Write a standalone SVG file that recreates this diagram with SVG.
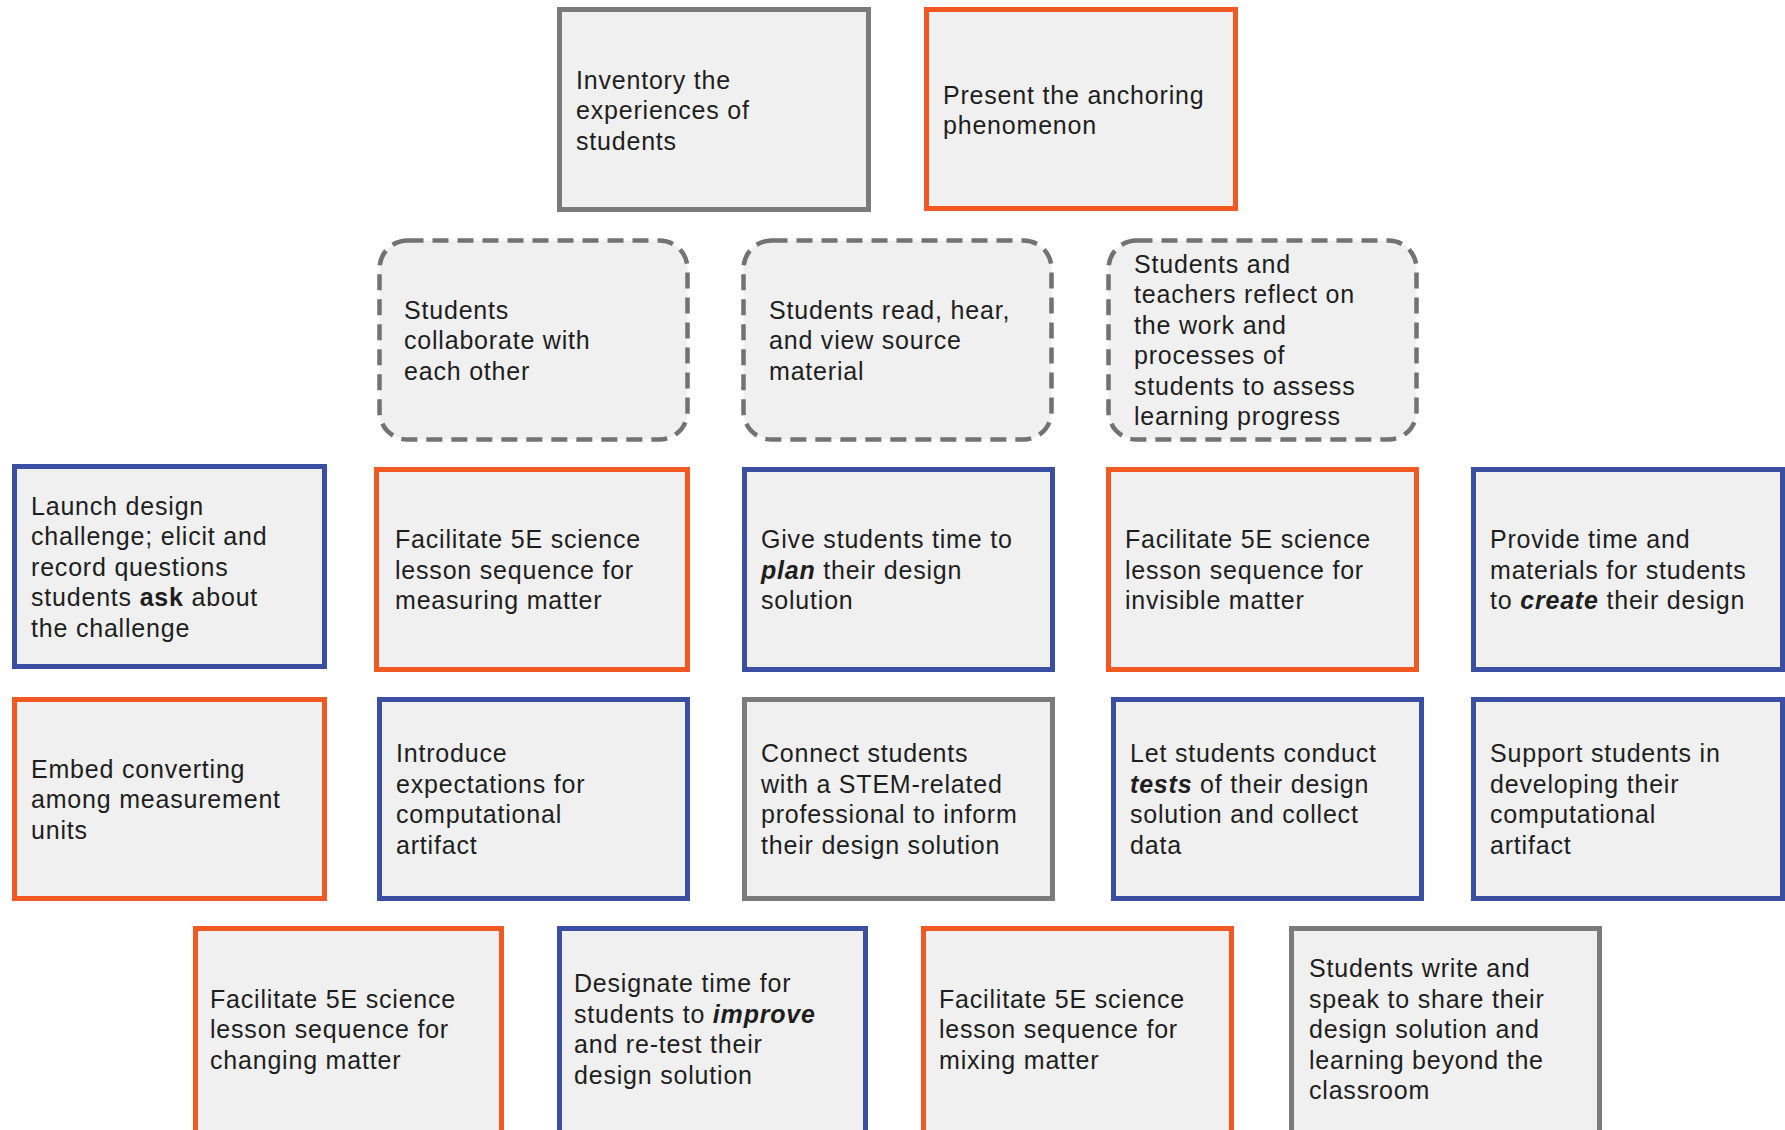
<svg xmlns="http://www.w3.org/2000/svg" width="1785" height="1130" viewBox="0 0 1785 1130">
<style>
.box{fill:#f0f0f0;stroke-width:5}
.org{stroke:#f05a22}
.blu{stroke:#3a4ea2}
.gry{stroke:#7b7b7b}
.dsh{stroke:#727272;stroke-width:4.5;stroke-dasharray:16 9;fill:#f0f0f0}
text{font-family:"Liberation Sans",Arial,sans-serif;font-size:25px;fill:#1e1e1e;letter-spacing:0.8px}
.b{font-weight:bold}
.bi{font-weight:bold;font-style:italic}
</style>
<rect width="1785" height="1130" fill="#ffffff"/>

<g id="inventory">
<rect class="box gry" x="559.5" y="9.5" width="309" height="200"/>
<text x="576" y="88.5">Inventory the</text>
<text x="576" y="119">experiences of</text>
<text x="576" y="149.5">students</text>
</g>
<g id="present">
<rect class="box org" x="926.5" y="9.5" width="309" height="199"/>
<text x="943" y="103.75">Present the anchoring</text>
<text x="943" y="134.25">phenomenon</text>
</g>

<g id="collaborate">
<rect class="dsh" x="379.5" y="240.5" width="308" height="199" rx="28"/>
<text x="404" y="318.5">Students</text>
<text x="404" y="349">collaborate with</text>
<text x="404" y="379.5">each other</text>
</g>
<g id="read">
<rect class="dsh" x="743.5" y="240.5" width="308" height="199" rx="28"/>
<text x="769" y="318.5">Students read, hear,</text>
<text x="769" y="349">and view source</text>
<text x="769" y="379.5">material</text>
</g>
<g id="reflect">
<rect class="dsh" x="1108.5" y="240.5" width="308" height="199" rx="28"/>
<text x="1134" y="272.75">Students and</text>
<text x="1134" y="303.25">teachers reflect on</text>
<text x="1134" y="333.75">the work and</text>
<text x="1134" y="364.25">processes of</text>
<text x="1134" y="394.75">students to assess</text>
<text x="1134" y="425.25">learning progress</text>
</g>

<g id="launch">
<rect class="box blu" x="14.5" y="466.5" width="310" height="200"/>
<text x="31" y="514.5">Launch design</text>
<text x="31" y="545">challenge; elicit and</text>
<text x="31" y="575.5">record questions</text>
<text x="31" y="606">students <tspan class="b">ask</tspan> about</text>
<text x="31" y="636.5">the challenge</text>
</g>
<g id="measuring">
<rect class="box org" x="376.5" y="469.5" width="311" height="200"/>
<text x="395" y="548">Facilitate 5E science</text>
<text x="395" y="578.5">lesson sequence for</text>
<text x="395" y="609">measuring matter</text>
</g>
<g id="plan">
<rect class="box blu" x="744.5" y="469.5" width="308" height="200"/>
<text x="761" y="548">Give students time to</text>
<text x="761" y="578.5"><tspan class="bi">plan</tspan> their design</text>
<text x="761" y="609">solution</text>
</g>
<g id="invisible">
<rect class="box org" x="1108.5" y="469.5" width="308" height="200"/>
<text x="1125" y="548">Facilitate 5E science</text>
<text x="1125" y="578.5">lesson sequence for</text>
<text x="1125" y="609">invisible matter</text>
</g>
<g id="create">
<rect class="box blu" x="1473.5" y="469.5" width="309" height="200"/>
<text x="1490" y="548">Provide time and</text>
<text x="1490" y="578.5">materials for students</text>
<text x="1490" y="609">to <tspan class="bi">create</tspan> their design</text>
</g>

<g id="embed">
<rect class="box org" x="14.5" y="699.5" width="310" height="199"/>
<text x="31" y="777.5">Embed converting</text>
<text x="31" y="808">among measurement</text>
<text x="31" y="838.5">units</text>
</g>
<g id="introduce">
<rect class="box blu" x="379.5" y="699.5" width="308" height="199"/>
<text x="396" y="762.25">Introduce</text>
<text x="396" y="792.75">expectations for</text>
<text x="396" y="823.25">computational</text>
<text x="396" y="853.75">artifact</text>
</g>
<g id="connect">
<rect class="box gry" x="744.5" y="699.5" width="308" height="199"/>
<text x="761" y="762.25">Connect students</text>
<text x="761" y="792.75">with a STEM-related</text>
<text x="761" y="823.25">professional to inform</text>
<text x="761" y="853.75">their design solution</text>
</g>
<g id="tests">
<rect class="box blu" x="1113.5" y="699.5" width="308" height="199"/>
<text x="1130" y="762.25">Let students conduct</text>
<text x="1130" y="792.75"><tspan class="bi">tests</tspan> of their design</text>
<text x="1130" y="823.25">solution and collect</text>
<text x="1130" y="853.75">data</text>
</g>
<g id="support">
<rect class="box blu" x="1473.5" y="699.5" width="309" height="199"/>
<text x="1490" y="762.25">Support students in</text>
<text x="1490" y="792.75">developing their</text>
<text x="1490" y="823.25">computational</text>
<text x="1490" y="853.75">artifact</text>
</g>

<g id="changing">
<rect class="box org" x="195.5" y="928.5" width="306" height="210"/>
<text x="210" y="1007.5">Facilitate 5E science</text>
<text x="210" y="1038">lesson sequence for</text>
<text x="210" y="1068.5">changing matter</text>
</g>
<g id="improve">
<rect class="box blu" x="559.5" y="928.5" width="306" height="210"/>
<text x="574" y="992.25">Designate time for</text>
<text x="574" y="1022.75">students to <tspan class="bi">improve</tspan></text>
<text x="574" y="1053.25">and re-test their</text>
<text x="574" y="1083.75">design solution</text>
</g>
<g id="mixing">
<rect class="box org" x="923.5" y="928.5" width="308" height="210"/>
<text x="939" y="1007.5">Facilitate 5E science</text>
<text x="939" y="1038">lesson sequence for</text>
<text x="939" y="1068.5">mixing matter</text>
</g>
<g id="share">
<rect class="box gry" x="1291.5" y="928.5" width="308" height="210"/>
<text x="1309" y="977">Students write and</text>
<text x="1309" y="1007.5">speak to share their</text>
<text x="1309" y="1038">design solution and</text>
<text x="1309" y="1068.5">learning beyond the</text>
<text x="1309" y="1099">classroom</text>
</g>
</svg>
